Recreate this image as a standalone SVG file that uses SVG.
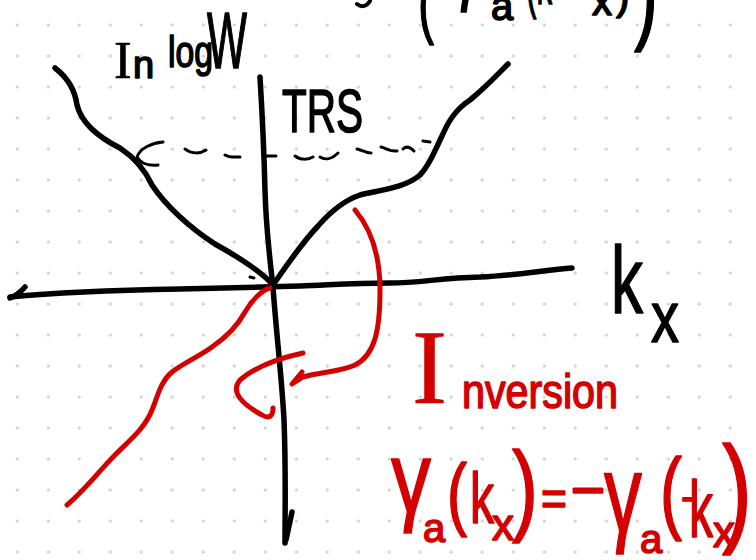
<svg xmlns="http://www.w3.org/2000/svg" width="756" height="560" viewBox="0 0 756 560">
<defs>
<pattern id="dots" x="1.8" y="9.5" width="31" height="31" patternUnits="userSpaceOnUse"><circle cx="15.5" cy="15.5" r="1.6" fill="#cfcfcf"/></pattern>
<style>
.ink{fill:none;stroke:#000;stroke-width:5.5;stroke-linecap:round;stroke-linejoin:round}
.thin{fill:none;stroke:#000;stroke-width:3;stroke-linecap:round;stroke-linejoin:round}
.red{fill:none;stroke:#d40000;stroke-width:5;stroke-linecap:round;stroke-linejoin:round}
.tk{font-family:"Liberation Sans",Arial,sans-serif;fill:#000;stroke:#000;stroke-width:1.6;stroke-linejoin:round}
.tr{font-family:"Liberation Sans",Arial,sans-serif;fill:#d40000;stroke:#d40000;stroke-width:1.6;stroke-linejoin:round}
.serif{font-family:"Liberation Serif","Times New Roman",serif;stroke-width:0.6}
</style>
</defs>
<rect width="756" height="560" fill="#fff"/>
<rect width="756" height="560" fill="url(#dots)"/>

<g id="axes">
<path class="ink" d="M10,297 C60,292 120,290 180,289 C230,288 260,287 300,286 C330,285 350,283 390,283 C420,283 440,278 480,277 C520,275 545,270 572,268"/>
<path class="ink" d="M25,287 Q18,295 10,298"/>
<path class="ink" d="M260,77 C262,110 264,150 265,190 C266,230 270,260 273,287 C276,330 282,380 284,420 C286,470 285,510 285,543"/>
<path class="ink" d="M292,512 L286,540"/>
<path class="thin" d="M263,156 L276,156"/>
</g>

<g id="bands">
<path class="ink" d="M55,68 C68,78 75,90 77,105 C82,125 100,138 120,148 C135,158 145,170 152,185 C165,205 190,228 215,244 C240,258 262,272 273,285"/>
<path class="ink" d="M273,285 C285,268 300,245 318,226 C332,210 345,200 360,195 C380,190 405,188 420,175 C430,165 435,150 442,136 C448,122 455,110 470,100 C485,88 497,75 508,64"/>
<path class="thin" d="M250,277 L254,278"/>
</g>

<g id="connectors">
<path class="thin" d="M163,142 C152,143 140,148 137,157 C140,163 148,166 158,165"/>
<path class="thin" d="M185,149 C192,154 200,154 206,150"/>
<path class="thin" d="M225,155 C230,158 236,157 240,157"/>
<path class="thin" d="M295,156 C300,160 308,160 313,157"/>
<path class="thin" d="M320,157 C326,161 333,158 338,153"/>
<path class="thin" d="M357,149 C362,150 366,153 371,153"/>
<path class="thin" d="M381,147 C386,148 390,152 397,151"/>
<path class="thin" d="M403,149 C406,146 410,147 414,151"/>
<path class="thin" d="M423,141 L430,142"/>
<path class="red" d="M355,210 C372,230 380,255 380,290 C380,330 375,355 355,365 C340,372 320,372 303,377 L292,384 L302,372"/>
<path class="red" d="M303,353 C280,358 255,367 240,380 C230,392 242,404 262,415 C270,420 273,415 273,408"/>
</g>

<g id="inverted">
<path class="red" d="M270,288 C262,290 252,300 245,312 C238,325 225,338 212,347 C200,356 185,362 172,372 C160,382 158,396 152,410 C145,428 130,440 115,455 C100,470 85,490 67,505"/>
</g>

<g id="top-label">
<path class="thin" style="stroke-width:4" d="M357,4 C362,8 367,6 370,1"/>
<text class="tk"><tspan x="418" y="28" font-size="80" textLength="16" lengthAdjust="spacingAndGlyphs">(</tspan><tspan x="452" y="-3" font-size="70" textLength="28" lengthAdjust="spacingAndGlyphs">γ</tspan><tspan x="491" y="20" font-size="40">a</tspan><tspan x="526" y="4" font-size="70" textLength="26" lengthAdjust="spacingAndGlyphs">(k</tspan><tspan x="592" y="15" font-size="40">x</tspan><tspan x="616" y="10" font-size="40">)</tspan><tspan x="634" y="29" font-size="110" textLength="24" lengthAdjust="spacingAndGlyphs">)</tspan></text>
</g>

<g id="label-lnlogW">
<text class="tk"><tspan class="serif" x="114" y="78" font-size="53">I</tspan><tspan x="133" y="78" font-size="38">n</tspan> <tspan x="168" y="67" font-size="44" textLength="45" lengthAdjust="spacingAndGlyphs">log</tspan> <tspan x="207" y="68" font-size="80" textLength="40" lengthAdjust="spacingAndGlyphs">W</tspan></text>
</g>

<g id="label-TRS">
<text class="tk" x="282" y="132" font-size="62" textLength="81" lengthAdjust="spacingAndGlyphs">TRS</text>
</g>

<g id="label-kx">
<text class="tk"><tspan x="611" y="313" font-size="95" textLength="32" lengthAdjust="spacingAndGlyphs">k</tspan><tspan x="651" y="342" font-size="72" textLength="28" lengthAdjust="spacingAndGlyphs">x</tspan></text>
</g>

<g id="label-inversion">
<text class="tr"><tspan class="serif" x="412" y="403" font-size="105">I</tspan><tspan x="462" y="408" font-size="48" textLength="156" lengthAdjust="spacingAndGlyphs">nversion</tspan></text>
</g>

<g id="label-equation">
<text class="tr"><tspan x="391" y="512" font-size="100" textLength="40" lengthAdjust="spacingAndGlyphs">γ</tspan><tspan x="423" y="542" font-size="40">a</tspan><tspan x="447" y="520" font-size="80" textLength="20" lengthAdjust="spacingAndGlyphs">(</tspan><tspan x="470" y="523" font-size="72" textLength="24" lengthAdjust="spacingAndGlyphs">k</tspan><tspan x="492" y="540" font-size="44">x</tspan><tspan x="512" y="522" font-size="100" textLength="26" lengthAdjust="spacingAndGlyphs">)</tspan><tspan x="541" y="515" font-size="50" textLength="26" lengthAdjust="spacingAndGlyphs">=</tspan><tspan x="569" y="506" font-size="60" textLength="38" lengthAdjust="spacingAndGlyphs">-</tspan><tspan x="604" y="531" font-size="110" textLength="38" lengthAdjust="spacingAndGlyphs">γ</tspan><tspan x="640" y="553" font-size="40">a</tspan><tspan x="660" y="522" font-size="90" textLength="22" lengthAdjust="spacingAndGlyphs">(</tspan><tspan x="681" y="510" font-size="40" textLength="15" lengthAdjust="spacingAndGlyphs">-</tspan><tspan x="689" y="537" font-size="80" textLength="24" lengthAdjust="spacingAndGlyphs">k</tspan><tspan x="713" y="547" font-size="44">x</tspan><tspan x="722" y="530" font-size="120" textLength="30" lengthAdjust="spacingAndGlyphs">)</tspan></text>
</g>
</svg>
